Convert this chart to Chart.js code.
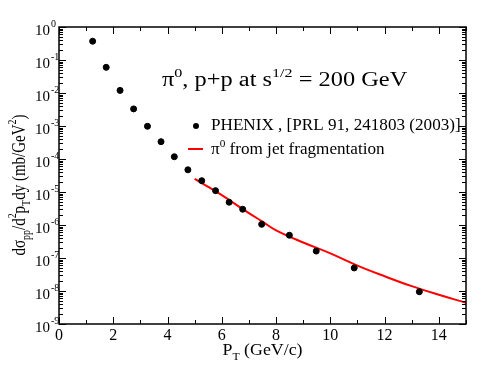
<!DOCTYPE html>
<html>
<head>
<meta charset="utf-8">
<script src="https://cdn.jsdelivr.net/npm/chart.js@4.4.1/dist/chart.umd.min.js"></script>
<style>
  html, body { margin: 0; padding: 0; background: #fff; }
  #c { display: block; }
</style>
</head>
<body>
<canvas id="c" width="494" height="382"></canvas>
<script>
// PHENIX pi0 points (pT in GeV/c, cross section in mb/GeV^2)
const ptData = [1.24, 1.74, 2.25, 2.75, 3.26, 3.76, 4.25, 4.75, 5.26, 5.77, 6.27, 6.77, 7.47, 8.49, 9.48, 10.88, 13.28];
const sigmaData = [0.37, 0.060, 0.012, 3.3e-3, 9.8e-4, 3.35e-4, 1.17e-4, 4.7e-5, 2.2e-5, 1.1e-5, 4.9e-6, 3.0e-6, 1.05e-6, 4.9e-7, 1.62e-7, 5.0e-8, 9.5e-9];

// jet fragmentation curve
const fragPt = [5.0, 5.5, 6.0, 6.5, 7.0, 7.5, 8.0, 9.0, 10.0, 11.0, 12.0, 13.0, 14.0, 15.0];
const fragSigma = [2.5e-5, 1.43e-5, 8.0e-6, 4.3e-6, 2.3e-6, 1.26e-6, 6.9e-7, 2.95e-7, 1.38e-7, 5.9e-8, 2.8e-8, 1.4e-8, 7.7e-9, 4.4e-9];

// axis ticks
const xTickLabels = [0, 2, 4, 6, 8, 10, 12, 14];
const yTickExps = [0, -1, -2, -3, -4, -5, -6, -7, -8, -9];

const FONT = '"Liberation Serif", "Times New Roman", serif';

// width of text made of normal / sup / sub pieces
function richWidth(ctx, parts, size) {
    let w = 0;
    parts.forEach(p => {
        const s = p.s === 'n' ? size : size * 0.66;
        ctx.font = s + 'px ' + FONT;
        w += ctx.measureText(p.t).width;
    });
    return w;
}
// draws rich text at (0,0) in the current transform
function drawRich(ctx, parts, size, align) {
    const w = richWidth(ctx, parts, size);
    let cx = 0;
    if (align === 'center') cx = -w / 2;
    if (align === 'right') cx = -w;
    ctx.textBaseline = 'alphabetic';
    ctx.textAlign = 'left';
    parts.forEach(p => {
        let s = size, dy = 0;
        if (p.s === 'sup') { s = size * 0.66; dy = -size * 0.45; }
        if (p.s === 'sub') { s = size * 0.66; dy = size * 0.28; }
        ctx.font = s + 'px ' + FONT;
        ctx.fillText(p.t, cx, dy);
        cx += ctx.measureText(p.t).width;
    });
}
// horizontal text, stretched sideways by sx
function textAt(ctx, parts, x, y, size, align, sx) {
    ctx.save();
    ctx.translate(x, y);
    ctx.scale(sx, 1);
    drawRich(ctx, parts, size, align);
    ctx.restore();
}

const framePlugin = {
    id: 'frame',
    afterDraw(chart) {
        const ctx = chart.ctx;
        const a = chart.chartArea;
        const xs = chart.scales.x, ys = chart.scales.y;
        ctx.save();
        ctx.strokeStyle = '#000';
        ctx.fillStyle = '#000';
        ctx.lineWidth = 1.5;
        ctx.strokeRect(a.left, a.top, a.right - a.left, a.bottom - a.top);

        ctx.lineWidth = 1;
        ctx.beginPath();
        // x ticks (inward, bottom and top)
        for (let v = 0; v <= 15; v++) {
            const px = Math.round(xs.getPixelForValue(v)) + 0.5;
            const len = v % 2 === 0 ? 7 : 4;
            ctx.moveTo(px, a.bottom); ctx.lineTo(px, a.bottom - len);
            ctx.moveTo(px, a.top); ctx.lineTo(px, a.top + len);
        }
        // y ticks (log, inward, left and right)
        for (let e = -9; e <= 0; e++) {
            for (let m = 1; m <= 9; m++) {
                const v = m * Math.pow(10, e);
                if (v > 1.0001) continue;
                const py = Math.round(ys.getPixelForValue(v)) + 0.5;
                const len = m === 1 ? 7 : 4;
                ctx.moveTo(a.left, py); ctx.lineTo(a.left + len, py);
                ctx.moveTo(a.right, py); ctx.lineTo(a.right - len, py);
            }
        }
        ctx.stroke();

        // tick labels
        xTickLabels.forEach(v => {
            ctx.font = '16px ' + FONT;
            ctx.textAlign = 'center';
            ctx.textBaseline = 'alphabetic';
            ctx.fillText(String(v), xs.getPixelForValue(v), a.bottom + 16);
        });
        yTickExps.forEach(e => {
            const py = ys.getPixelForValue(Math.pow(10, e));
            ctx.font = '15px ' + FONT;
            ctx.textAlign = 'right';
            ctx.textBaseline = 'alphabetic';
            ctx.fillText('10', 50, py + 8);
            ctx.font = '10px ' + FONT;
            ctx.textAlign = 'left';
            ctx.fillText(e === 0 ? '0' : '-' + Math.abs(e), 51, py);
        });

        // axis titles
        textAt(ctx, [{t: 'P', s: 'n'}, {t: 'T', s: 'sub'}, {t: ' (GeV/c)', s: 'n'}],
            (a.left + a.right) / 2, 355, 17, 'center', 1.05);
        ctx.save();
        ctx.translate(25, 185);
        ctx.rotate(-Math.PI / 2);
        ctx.scale(1, 1.3);
        drawRich(ctx, [
            {t: 'd\u03c3', s: 'n'}, {t: 'pp', s: 'sub'}, {t: '/d', s: 'n'}, {t: '2', s: 'sup'},
            {t: 'p', s: 'n'}, {t: 'T', s: 'sub'}, {t: 'dy (mb/GeV', s: 'n'}, {t: '2', s: 'sup'}, {t: ')', s: 'n'}
        ], 15, 'center');
        ctx.restore();

        // title inside the plot
        textAt(ctx, [
            {t: '\u03c0', s: 'n'}, {t: '0', s: 'sup'}, {t: ', p+p at s', s: 'n'}, {t: '1/2', s: 'sup'}, {t: ' = 200 GeV', s: 'n'}
        ], 162, 86, 20, 'left', 1.22);

        // legend
        ctx.beginPath();
        ctx.arc(196, 126, 3, 0, Math.PI * 2);
        ctx.fill();
        textAt(ctx, [{t: 'PHENIX , [PRL 91, 241803 (2003)]', s: 'n'}], 211, 130, 16, 'left', 1.07);
        ctx.strokeStyle = '#ff0000';
        ctx.lineWidth = 2;
        ctx.beginPath();
        ctx.moveTo(188, 149); ctx.lineTo(203, 149);
        ctx.stroke();
        textAt(ctx, [{t: '\u03c0', s: 'n'}, {t: '0', s: 'sup'}, {t: ' from jet fragmentation', s: 'n'}], 211, 154, 16, 'left', 1.07);
        ctx.restore();
    }
};

new Chart(document.getElementById('c'), {
    type: 'scatter',
    data: {
        datasets: [{
            label: 'PHENIX',
            data: ptData.map((x, i) => ({ x: x, y: sigmaData[i] })),
            backgroundColor: '#000',
            borderColor: '#000',
            pointRadius: 3,
            showLine: false
        }, {
            label: 'jet fragmentation',
            data: fragPt.map((x, i) => ({ x: x, y: fragSigma[i] })),
            borderColor: '#ff0000',
            borderWidth: 2,
            pointRadius: 0,
            showLine: true,
            tension: 0.4
        }]
    },
    options: {
        responsive: false,
        animation: false,
        layout: { padding: { left: 59, right: 28, top: 27, bottom: 58 } },
        scales: {
            x: { type: 'linear', min: 0, max: 15, display: false },
            y: { type: 'logarithmic', min: 1e-9, max: 1, display: false }
        },
        plugins: {
            legend: { display: false },
            tooltip: { enabled: false }
        }
    },
    plugins: [framePlugin]
});
</script>
</body>
</html>
